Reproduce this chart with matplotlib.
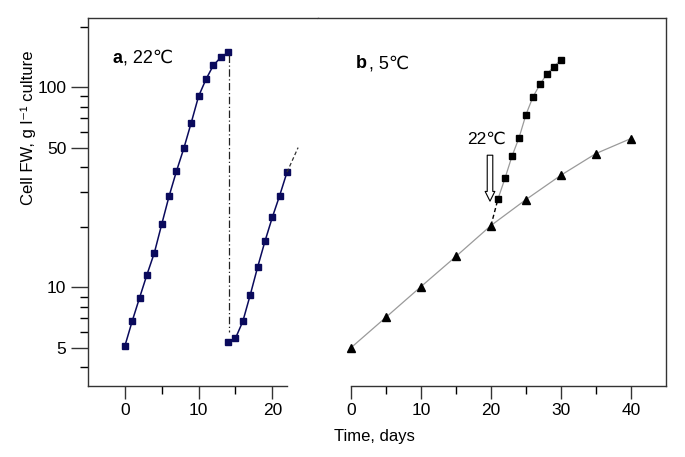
import matplotlib
matplotlib.use("Agg")
import matplotlib.pyplot as plt
from matplotlib.ticker import FixedLocator, NullFormatter

plt.rcParams['font.family'] = ['Liberation Sans', 'DejaVu Sans']

# panel a, 22 C
days_a1 = [0, 1, 2, 3, 4, 5, 6, 7, 8, 9, 10, 11, 12, 13, 14]
fw_a1 = [5.1, 6.8, 8.9, 11.6, 14.9, 20.7, 28.6, 38.1, 49.6, 66.5, 90.2, 109.6, 128.7, 141, 149.4]
days_a2 = [14, 15, 16, 17, 18, 19, 20, 21, 22]
fw_a2 = [5.34, 5.57, 6.77, 9.16, 12.6, 17.0, 22.4, 28.8, 37.7]
ext_a_days = [22, 23.5]
ext_a_fw = [37.7, 50]
drop_day = 14.1
drop_fw = [145, 6.0]

# panel b, 5 C and transfer to 22 C
days_b5 = [0, 5, 10, 15, 20, 25, 30, 35, 40]
fw_b5 = [5.0, 7.1, 10.1, 14.3, 20.4, 27.5, 36.4, 46.7, 55.5]
days_b22 = [21, 22, 23, 24, 25, 26, 27, 28, 29, 30]
fw_b22 = [27.7, 35.1, 45.3, 55.9, 73.1, 89.6, 103.5, 117, 126.8, 137.4]

navy = "#0a0a5c"
spine_c = "#333333"

fig = plt.figure(figsize=(6.85, 4.57), dpi=100)
ax1 = fig.add_axes([88/685, 1-386/457, 230/685, 368/457])
ax2 = fig.add_axes([318/685, 1-386/457, 348/685, 368/457], sharey=ax1)

for ax in (ax1, ax2):
    ax.set_yscale('log')
    for s in ax.spines.values():
        s.set_color(spine_c)
        s.set_linewidth(1.0)
    ax.tick_params(colors=spine_c, labelcolor='black', labelsize=12.5)

ax1.set_ylim(3.22, 222)

# --- panel a
ax1.plot(days_a1, fw_a1, '-', color=navy, lw=1.1, marker='s', ms=4.6, mfc=navy, mec=navy)
ax1.plot(days_a2, fw_a2, '-', color=navy, lw=1.1, marker='s', ms=4.6, mfc=navy, mec=navy)
ax1.plot(ext_a_days, ext_a_fw, linestyle=(0, (3, 2)), color='#333333', lw=0.9)
ax1.plot([drop_day, drop_day], drop_fw, linestyle=(0, (6, 2, 1, 2)), color='#222222', lw=0.9)

ax1.set_xlim(-5, 26.2)
ax1.spines['right'].set_visible(False)
ax1.spines['bottom'].set_bounds(-5, 22)
ax1.set_xticks([0, 10, 20])
ax1.xaxis.set_minor_locator(FixedLocator([5, 15]))
ax1.tick_params(axis='x', which='major', length=9, width=1)
ax1.tick_params(axis='x', which='minor', length=6, width=1)

ax1.yaxis.set_major_locator(FixedLocator([5, 10, 50, 100]))
ax1.set_yticklabels(['5', '10', '50', '100'])
ax1.yaxis.set_minor_locator(FixedLocator([4, 6, 7, 8, 9, 20, 30, 40, 60, 70, 80, 90, 200]))
ax1.yaxis.set_minor_formatter(NullFormatter())
ax1.tick_params(axis='y', which='major', length=12, width=1)
ax1.tick_params(axis='y', which='minor', length=6, width=1)

ax1.text(0.107, 0.891, 'a', transform=ax1.transAxes, fontsize=13, fontweight='bold', va='center')
ax1.text(0.152, 0.891, ', 22\u2103', transform=ax1.transAxes, fontsize=13, va='center')

# --- panel b
ax2.plot(days_b5, fw_b5, '-', color='#9a9a9a', lw=0.9, marker='^', ms=5.2, mfc='black', mec='black')
ax2.plot(days_b22, fw_b22, '-', color='#9a9a9a', lw=0.9, marker='s', ms=4.0, mfc='black', mec='black')
ax2.plot([days_b5[4], days_b22[0]], [fw_b5[4], fw_b22[0]], linestyle=(0, (3, 2)), color='black', lw=1.0)

ax2.annotate('', xy=(19.86, 27.0), xytext=(19.86, 45.8),
             arrowprops=dict(arrowstyle='simple,head_width=0.7,head_length=0.7,tail_width=0.4',
                             fc='white', ec='black', lw=0.8, shrinkA=0, shrinkB=0))
ax2.text(19.4, 54.8, '22\u2103', fontsize=12.5, ha='center', va='center')

ax2.set_xlim(-4.71, 45)
ax2.spines['left'].set_visible(False)
ax2.spines['bottom'].set_bounds(0, 45)
ax2.set_xticks([0, 10, 20, 30, 40])
ax2.xaxis.set_minor_locator(FixedLocator([5, 15, 25, 35]))
ax2.tick_params(axis='x', which='major', length=9, width=1)
ax2.tick_params(axis='x', which='minor', length=6, width=1)
ax2.tick_params(axis='y', which='both', left=False, labelleft=False)

ax2.text(0.109, 0.875, 'b', transform=ax2.transAxes, fontsize=13, fontweight='bold', va='center')
ax2.text(0.147, 0.875, ', 5\u2103', transform=ax2.transAxes, fontsize=13, va='center')

fig.text(28/685, 1-128/457, 'Cell FW, g l\u207b\u00b9 culture', rotation=90,
         ha='center', va='center', fontsize=12)
fig.text(374/685, 1-436/457, 'Time, days', ha='center', va='center', fontsize=12)

fig.savefig('out.png', dpi=100)
